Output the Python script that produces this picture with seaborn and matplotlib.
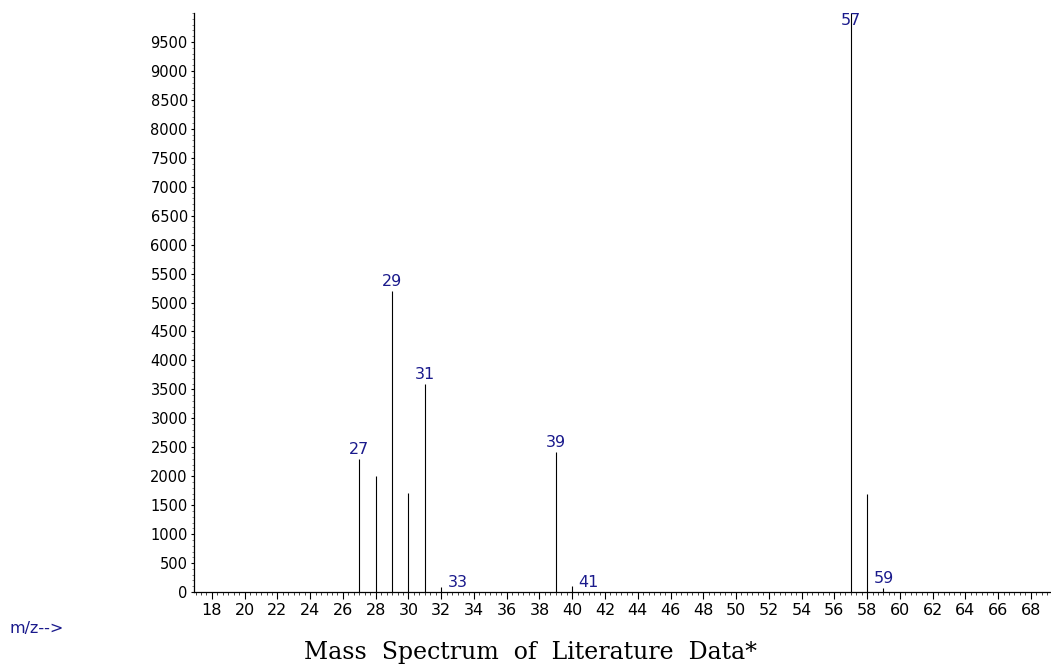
import matplotlib
matplotlib.use("Agg")
import matplotlib.pyplot as plt
import seaborn as sns
from matplotlib.ticker import MultipleLocator
import pandas as pd

# m/z values and abundances
mz = [27, 28, 29, 30, 31, 32, 33, 39, 40, 41, 57, 58, 59]
abundance = [2290, 2000, 5195, 1705, 3600, 80, 5, 2420, 110, 5, 10000, 1700, 70]
labeled = [27, 29, 31, 33, 39, 41, 57, 59]

x_ticks = list(range(18, 70, 2))
y_ticks = list(range(0, 10000, 500))

title = "Mass  Spectrum  of  Literature  Data*"
xlab = "m/z-->"

df = pd.DataFrame({"mz": mz, "abundance": abundance})

sns.set_theme(style="ticks")
plt.rcParams["font.family"] = ["DejaVu Sans"]

fig = plt.figure(figsize=(10.51, 6.67), dpi=100)
ax = fig.add_axes([0.1846, 0.1124, 0.8154, 0.868])

ax.vlines(df["mz"], 0, df["abundance"], colors="black", linewidth=0.8)

xmin, xmax = 16.907, 69.23
ymax = 10000
ax.set_xlim(xmin, xmax)
ax.set_ylim(0, ymax)

navy = "#1a1a8c"
for m, a in zip(mz, abundance):
    if m not in labeled:
        continue
    if a >= ymax * 0.98:
        ax.annotate(str(m), (m, ymax), xytext=(0, 0), textcoords="offset points",
                    ha="center", va="top", color=navy, fontsize=11.5, clip_on=False)
    else:
        ax.annotate(str(m), (m, a), xytext=(0, 1.5), textcoords="offset points",
                    ha="center", va="bottom", color=navy, fontsize=11.5)

ax.set_xticks(x_ticks)
ax.set_xticklabels([str(t) for t in x_ticks])
ax.xaxis.set_minor_locator(MultipleLocator(1 / 3))
ax.set_yticks(y_ticks)
ax.set_yticklabels([str(t) for t in y_ticks])
ax.yaxis.set_minor_locator(MultipleLocator(100))

ax.tick_params(axis="x", which="major", direction="out", length=5, width=0.8,
               labelsize=11.5, pad=3, colors="black")
ax.tick_params(axis="x", which="minor", direction="out", length=2.5, width=0.6)
ax.tick_params(axis="y", which="major", direction="out", length=2.5, width=0.8,
               labelsize=10.5, pad=2, colors="black")
ax.tick_params(axis="y", which="minor", direction="out", length=1.2, width=0.4)

for side in ["top", "right"]:
    ax.spines[side].set_visible(False)
for side in ["left", "bottom"]:
    ax.spines[side].set_color("black")
    ax.spines[side].set_linewidth(0.9)

fig.text(0.0095, 0.058, xlab, color=navy, fontsize=11.5, ha="left", va="center")
fig.text(0.505, 0.022, title, family="DejaVu Serif", fontsize=17, ha="center",
         va="center", color="black")

fig.savefig("out.png", dpi=100, facecolor="white")
